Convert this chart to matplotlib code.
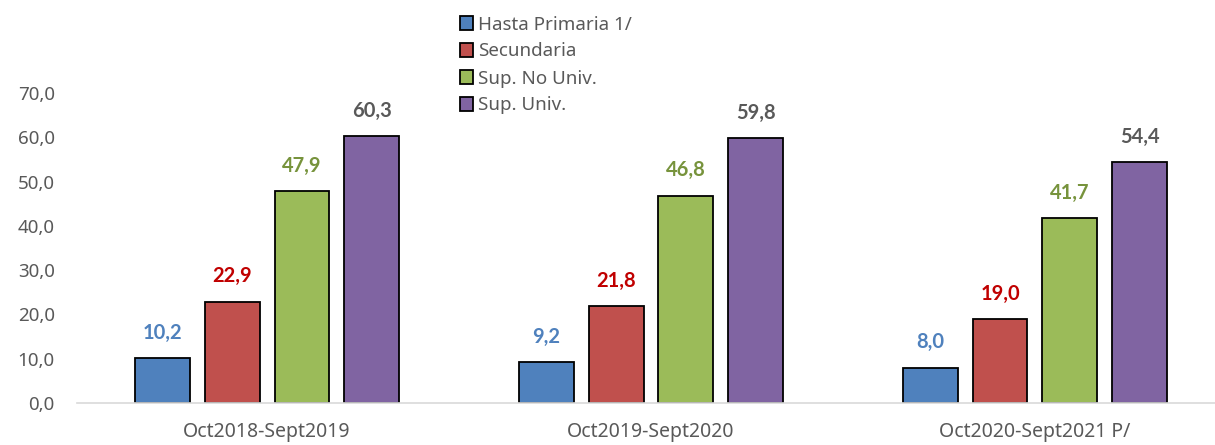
import numpy as np
import matplotlib.pyplot as plt

plt.rcParams['font.family'] = ['Noto Sans', 'DejaVu Sans']

periods = ["Oct2018-Sept2019", "Oct2019-Sept2020", "Oct2020-Sept2021 P/"]
series = ["Hasta Primaria 1/", "Secundaria", "Sup. No Univ.", "Sup. Univ."]
primaria = [10.2, 9.2, 8.0]
secundaria = [22.9, 21.8, 19.0]
sup_no_univ = [47.9, 46.8, 41.7]
sup_univ = [60.3, 59.8, 54.4]

values = [primaria, secundaria, sup_no_univ, sup_univ]
bar_colors = ["#4F81BD", "#C0504D", "#9BBB59", "#8064A2"]
label_colors = ["#4F81BD", "#C00000", "#77933C", "#595959"]

fig = plt.figure(figsize=(12.15, 4.45), dpi=100)
ax = fig.add_axes([0.0634, 0.0944, 0.9366, 0.6966])

x = np.arange(len(periods))
width = 0.143
step = 0.182
for i, (name, vals) in enumerate(zip(series, values)):
    pos = x + (i - 1.5) * step
    ax.bar(pos, vals, width, color=bar_colors[i], edgecolor="black",
           linewidth=1.3, label=name)
    for xp, v in zip(pos, vals):
        ax.annotate(f"{v:.1f}".replace(".", ","), (xp, v), xytext=(0, 11),
                    textcoords="offset points", ha="center", va="bottom",
                    fontsize=14.5, fontweight="bold", color=label_colors[i],
                    family=["Lato", "DejaVu Sans"], annotation_clip=False)

ax.set_ylim(0, 70)
ax.set_xlim(-0.495, 2.469)
ax.set_yticks(np.arange(0, 71, 10))
ax.set_yticklabels([f"{t:.1f}".replace(".", ",") for t in np.arange(0, 71, 10)])
ax.set_xticks(x)
ax.set_xticklabels(periods)
ax.tick_params(length=0, labelcolor="#595959")
ax.tick_params(axis="x", labelsize=14, pad=14)
ax.tick_params(axis="y", labelsize=13.5, pad=16)
for s in ["top", "right", "left"]:
    ax.spines[s].set_visible(False)
ax.spines["bottom"].set_color("#D9D9D9")
ax.spines["bottom"].set_linewidth(1.2)

leg = fig.legend(loc="upper left", bbox_to_anchor=(452 / 1215, 1 - 8 / 445),
                 frameon=False, fontsize=13.5, handlelength=0.7,
                 handleheight=0.7, handletextpad=0.3, labelspacing=0.48,
                 borderaxespad=0)
for t in leg.get_texts():
    t.set_color("#595959")

plt.savefig("out.png", dpi=100)
plt.close()
